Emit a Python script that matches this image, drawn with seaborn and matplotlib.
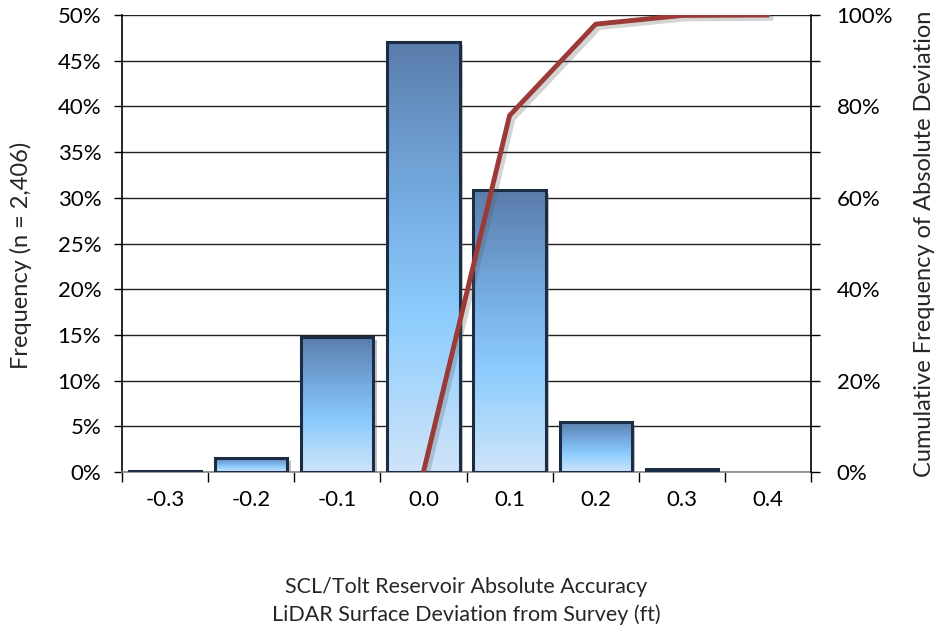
import numpy as np
import pandas as pd
import seaborn as sns
import matplotlib.pyplot as plt
import matplotlib.patheffects as pe
from matplotlib.colors import LinearSegmentedColormap
from matplotlib.patches import Rectangle
from matplotlib.ticker import FixedLocator, MultipleLocator

# Histogram of surface deviations (percent of points per 0.1 ft bin)
categories = ["-0.3", "-0.2", "-0.1", "0.0", "0.1", "0.2", "0.3", "0.4"]
frequency = [0.1, 1.55, 14.8, 47.1, 30.85, 5.5, 0.3, 0.0]

# Cumulative frequency of absolute deviation (percent)
cum_categories = ["0.0", "0.1", "0.2", "0.3", "0.4"]
cumulative = [0.0, 78.0, 98.0, 99.9, 100.0]

left_ticks = list(range(0, 51, 5))
left_labels = [f"{v}%" for v in left_ticks]
right_ticks = list(range(0, 101, 20))
right_labels = [f"{v}%" for v in right_ticks]

x_title = "SCL/Tolt Reservoir Absolute Accuracy\nLiDAR Surface Deviation from Survey (ft)"
y_title = "Frequency (n = 2,406)"
y2_title = "Cumulative Frequency of Absolute Deviation"

sns.set_theme(style="white")
plt.rcParams["font.family"] = ["Lato", "DejaVu Sans"]
TICK_FS = 16
YLAB_FS = 17
XLAB_FS = 15.5

fig = plt.figure(figsize=(9.36, 6.34), dpi=100)
fig.patch.set_facecolor("white")
ax = fig.add_axes([122 / 936, 1 - 472 / 634, (811 - 122) / 936, (472 - 15) / 634])

df = pd.DataFrame({"bin": categories, "freq": frequency})
sns.barplot(data=df, x="bin", y="freq", order=categories, width=0.84,
            color="#cde3f8", saturation=1, edgecolor="none", linewidth=0,
            ax=ax, zorder=3)

ax.set_xlim(-0.5, len(categories) - 0.5)
ax.set_ylim(0, 50)

# vertical gradient fill for each bar, with a light inner rim, dark edge and soft shadow
grad = LinearSegmentedColormap.from_list(
    "bar", [(0.0, "#cfe4f9"), (0.35, "#8ecdfd"), (0.6, "#78b0e6"), (1.0, "#5a7dab")])
img = np.linspace(0, 1, 256).reshape(-1, 1)
for p in list(ax.patches):
    h = p.get_height()
    if h <= 0:
        p.set_visible(False)
        continue
    x0, w = p.get_x(), p.get_width()
    p.set_path_effects([pe.SimplePatchShadow(offset=(2.5, -2.5), shadow_rgbFace="#777777", alpha=0.45),
                        pe.Normal()])
    im = ax.imshow(img, extent=[x0, x0 + w, 0, h], origin="lower", aspect="auto",
                   cmap=grad, zorder=3.1, interpolation="bilinear")
    im.set_clip_path(p)
    ax.add_patch(Rectangle((x0, 0), w, h, fill=False, edgecolor="#1b2c44",
                           linewidth=2.2, zorder=3.2))

ax.set_xlim(-0.5, len(categories) - 0.5)
ax.set_ylim(0, 50)

# y grid and axes
ax.set_yticks(left_ticks)
ax.set_yticklabels(left_labels, fontsize=TICK_FS)
ax.yaxis.grid(True, color="#222222", linewidth=1.0)
ax.set_axisbelow(True)
for s in ["top", "right"]:
    ax.spines[s].set_visible(False)
ax.spines["left"].set_color("black")
ax.spines["left"].set_linewidth(1.2)
ax.spines["bottom"].set_color("#888888")
ax.spines["bottom"].set_linewidth(1.2)
ax.tick_params(axis="y", which="major", direction="out", length=6, width=1,
               color="black", left=True, pad=9, labelcolor="black")

ax.set_xticks(range(len(categories)))
ax.set_xticklabels(categories, fontsize=TICK_FS)
ax.xaxis.set_minor_locator(FixedLocator(np.arange(-0.5, len(categories), 1.0)))
ax.tick_params(axis="x", which="major", length=0, pad=13, labelcolor="black")
ax.tick_params(axis="x", which="minor", direction="out", length=7, width=1,
               color="black", bottom=True)

ax.set_xlabel(x_title, fontsize=XLAB_FS, linespacing=1.45, va="center", ha="center")
ax.xaxis.set_label_coords(0.5, -0.282)
ax.set_ylabel(y_title, fontsize=YLAB_FS, va="center")
ax.yaxis.set_label_coords(-0.147, 0.475)

# cumulative curve on the secondary axis
ax2 = ax.twinx()
pos = [categories.index(c) for c in cum_categories]
sns.lineplot(x=pos, y=cumulative, ax=ax2, color="#9b3a36", linewidth=3.5,
             solid_joinstyle="round", solid_capstyle="round", zorder=5,
             path_effects=[pe.SimpleLineShadow(offset=(2.5, -2.5), shadow_color="#555555", alpha=0.25),
                           pe.Normal()])
ax2.set_ylim(0, 100)
ax2.set_xlim(-0.5, len(categories) - 0.5)
ax2.set_yticks(right_ticks)
ax2.set_yticklabels(right_labels, fontsize=TICK_FS)
ax2.yaxis.set_minor_locator(MultipleLocator(10))
ax2.tick_params(axis="y", which="both", direction="out", length=6.5, width=1,
                color="black", right=True, pad=12, labelcolor="black")
for s in ["top", "left", "bottom"]:
    ax2.spines[s].set_visible(False)
ax2.spines["right"].set_color("black")
ax2.spines["right"].set_linewidth(1.2)
ax2.set_ylabel(y2_title, fontsize=YLAB_FS, rotation=90, va="center")
ax2.yaxis.set_label_coords(1.165, 0.5)
ax2.set_xlabel("")

fig.savefig("out.png", dpi=100, facecolor="white")
